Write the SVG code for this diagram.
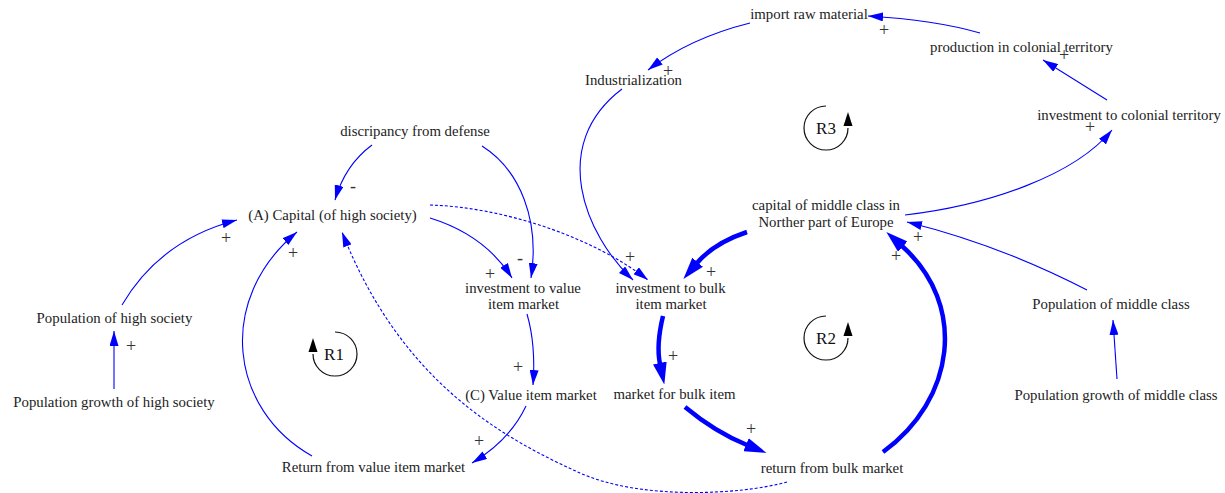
<svg xmlns="http://www.w3.org/2000/svg" width="1225" height="493" viewBox="0 0 1225 493">
<style>
.n{font-family:"Liberation Serif","Times New Roman",serif;font-size:14.8px;fill:#222;text-anchor:middle}
.s{font-family:"Liberation Serif","Times New Roman",serif;font-size:18px;fill:#333;text-anchor:middle}
.l{font-family:"Liberation Serif","Times New Roman",serif;font-size:17px;fill:#111;text-anchor:middle}
.c{fill:none;stroke:#0000ff;stroke-width:1.1;marker-end:url(#ah)}
.d{fill:none;stroke:#0000ff;stroke-width:1.1;stroke-dasharray:3 2;marker-end:url(#ah)}
.t{fill:none;stroke:#0000ff;stroke-width:4.5;marker-end:url(#at)}
.lc{fill:none;stroke:#111;stroke-width:1.2}
</style>
<defs>
<marker id="ah" viewBox="0 0 15 9" refX="15" refY="4.5" markerWidth="15" markerHeight="9" markerUnits="userSpaceOnUse" orient="auto"><path d="M0,0 L15,4.5 L0,9 z" fill="#0000ff"/></marker>
<marker id="at" viewBox="0 0 22 14" refX="1" refY="7" markerWidth="22" markerHeight="14" markerUnits="userSpaceOnUse" orient="auto"><path d="M0,0 L22,7 L0,14 z" fill="#0000ff"/></marker>
</defs>
<rect width="1225" height="493" fill="#fff"/>

<g id="connectors">
<path class="c" d="M980 33 Q935 20 868 16"/>
<path class="c" d="M750 23 Q690 38 648 70"/>
<path class="c" d="M1107 100 L1043 60"/>
<path class="c" d="M905 215 C990 205 1075 175 1112 130"/>
<path class="c" d="M622 89 C548 145 585 235 633 280"/>
<path class="c" d="M372 145 Q345 165 335 200"/>
<path class="c" d="M482 146 C520 170 540 220 531 278"/>
<path class="c" d="M430 218 Q485 235 512 278"/>
<path class="d" d="M430 205 C500 207 590 235 648 280"/>
<path class="t" d="M747 232 Q714 243 697 263"/>
<path class="c" d="M527 314 Q536 345 533 385"/>
<path class="t" d="M663 316 Q656 345 660 364"/>
<path class="t" d="M685 407 Q715 432 747 445"/>
<path class="t" d="M883 452 C955 400 968 305 902 246"/>
<path class="c" d="M1087 290 Q1000 245 907 222"/>
<path class="c" d="M1117 379 L1113 320"/>
<path class="c" d="M526 406 Q510 440 472 463"/>
<path class="c" d="M312 456 C230 410 215 300 297 232"/>
<path class="c" d="M122 305 Q160 240 237 220"/>
<path class="c" d="M114 389 L114 331"/>
<path class="d" d="M787 482 C740 495 640 500 580 473 C500 437 400 380 342 232"/>
</g>

<g id="signs">
<text class="s" x="884" y="36">+</text>
<text class="s" x="668" y="77">+</text>
<text class="s" x="1064" y="61">+</text>
<text class="s" x="1090" y="133">+</text>
<text class="s" x="353" y="192">-</text>
<text class="s" x="520" y="264">-</text>
<text class="s" x="490" y="280">+</text>
<text class="s" x="630" y="263">+</text>
<text class="s" x="711" y="278">+</text>
<text class="s" x="518" y="373">+</text>
<text class="s" x="673" y="362">+</text>
<text class="s" x="751" y="435">+</text>
<text class="s" x="896" y="262">+</text>
<text class="s" x="918" y="243">+</text>
<text class="s" x="479" y="447">+</text>
<text class="s" x="293" y="259">+</text>
<text class="s" x="226" y="244">+</text>
<text class="s" x="131" y="352">+</text>
</g>

<g id="n-import"><text class="n" x="809" y="19">import raw material</text></g>
<g id="n-production"><text class="n" x="1021.5" y="52">production in colonial territory</text></g>
<g id="n-industrialization"><text class="n" x="633.5" y="85">Industrialization</text></g>
<g id="n-invcolonial"><text class="n" x="1129" y="120">investment to colonial territory</text></g>
<g id="n-discripancy"><text class="n" x="415" y="136">discripancy from defense</text></g>
<g id="n-capitalmiddle"><text class="n" x="826" y="210">capital of middle class in</text><text class="n" x="826" y="227">Norther part of Europe</text></g>
<g id="n-capitalA"><text class="n" x="332.5" y="220">(A) Capital (of high society)</text></g>
<g id="n-invvalue"><text class="n" x="523" y="293">investment to value</text><text class="n" x="523.5" y="309">item market</text></g>
<g id="n-invbulk"><text class="n" x="670.5" y="293">investment to bulk</text><text class="n" x="671" y="309">item market</text></g>
<g id="n-pophigh"><text class="n" x="114.5" y="323">Population of high society</text></g>
<g id="n-popmiddle"><text class="n" x="1111" y="309">Population of middle class</text></g>
<g id="n-valueC"><text class="n" x="531" y="400">(C) Value item market</text></g>
<g id="n-marketbulk"><text class="n" x="674.5" y="399">market for bulk item</text></g>
<g id="n-popgrowthhigh"><text class="n" x="114" y="407">Population growth of high society</text></g>
<g id="n-popgrowthmiddle"><text class="n" x="1116" y="400">Population growth of middle class</text></g>
<g id="n-returnvalue"><text class="n" x="373.5" y="472">Return from value item market</text></g>
<g id="n-returnbulk"><text class="n" x="832" y="473">return from bulk market</text></g>

<g id="loop-R1">
<path class="lc" d="M335 332 A22 22 0 1 1 313 354"/>
<polygon points="313,338 308.5,352 317.5,352" fill="#000"/>
<text class="l" x="334" y="360">R1</text>
</g>
<g id="loop-R2">
<path class="lc" d="M826 316 A22 22 0 1 0 848 338"/>
<polygon points="848,322 843.5,336 852.5,336" fill="#000"/>
<text class="l" x="826" y="344">R2</text>
</g>
<g id="loop-R3">
<path class="lc" d="M826 106 A22 22 0 1 0 848 128"/>
<polygon points="848,112 843.5,126 852.5,126" fill="#000"/>
<text class="l" x="826" y="134">R3</text>
</g>
</svg>
